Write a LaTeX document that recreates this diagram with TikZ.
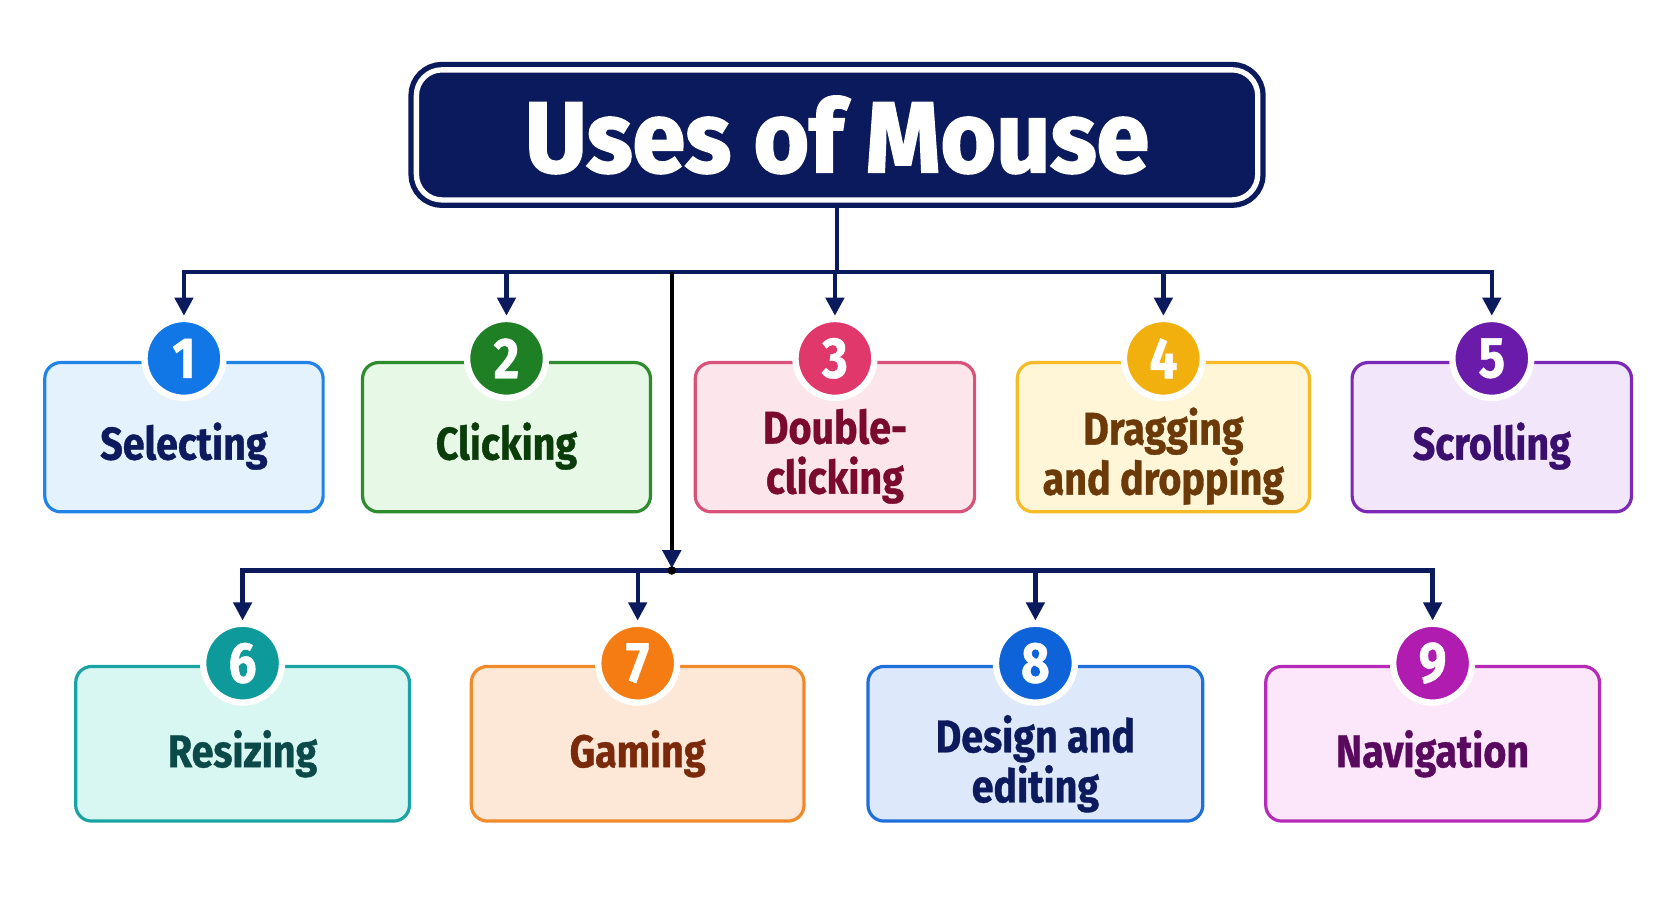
\documentclass[tikz,border=0pt]{standalone}
\usepackage{fontspec}
\setmainfont{Fira Sans}
\newfontfamily\condf{Fira Sans}[FakeStretch=0.86,FakeBold=0.8]
\newfontfamily\titlef{Fira Sans}[FakeStretch=0.95,FakeBold=2]
\usetikzlibrary{arrows.meta}
\definecolor{navy}{HTML}{0B1A5C}
\definecolor{bdA}{HTML}{2283E6}\definecolor{fiA}{HTML}{E4F2FD}\definecolor{ciA}{HTML}{1177E6}\definecolor{txA}{HTML}{0D1B5E}
\definecolor{bdB}{HTML}{2E8B2E}\definecolor{fiB}{HTML}{E7F8E7}\definecolor{ciB}{HTML}{1E7F25}\definecolor{txB}{HTML}{0B3D0B}
\definecolor{bdC}{HTML}{D9527A}\definecolor{fiC}{HTML}{FDE6EB}\definecolor{ciC}{HTML}{E0386A}\definecolor{txC}{HTML}{7A0A2E}
\definecolor{bdD}{HTML}{F5BC28}\definecolor{fiD}{HTML}{FFF6D8}\definecolor{ciD}{HTML}{F2B00F}\definecolor{txD}{HTML}{6B3A08}
\definecolor{bdE}{HTML}{7B2AB8}\definecolor{fiE}{HTML}{F2E6FB}\definecolor{ciE}{HTML}{6A1BAA}\definecolor{txE}{HTML}{3A0F6E}
\definecolor{bdF}{HTML}{1AA3A3}\definecolor{fiF}{HTML}{D8F7F2}\definecolor{ciF}{HTML}{0E9A9A}\definecolor{txF}{HTML}{0B4A48}
\definecolor{bdG}{HTML}{F08A2A}\definecolor{fiG}{HTML}{FDE8D8}\definecolor{ciG}{HTML}{F57C12}\definecolor{txG}{HTML}{7A2A0A}
\definecolor{bdH}{HTML}{1E6FD9}\definecolor{fiH}{HTML}{DDE9FA}\definecolor{ciH}{HTML}{0F63D8}\definecolor{txH}{HTML}{0D1B5E}
\definecolor{bdI}{HTML}{B52BB5}\definecolor{fiI}{HTML}{FCE7FA}\definecolor{ciI}{HTML}{B01CB0}\definecolor{txI}{HTML}{5A0A5E}
% text lowered by #1 below the box centre, first baseline at that point
\newcommand\boxlbl[2]{\raisebox{-#1}{\begin{tabular}[t]{@{}c@{}}#2\end{tabular}}}
\tikzset{
  ubox/.style n args={4}{draw=#1, fill=#2, text=#3, minimum width=#4, line width=1.5pt,
    rounded corners=7.5pt, inner sep=0pt, text height=0pt, text depth=0pt,
    font=\condf\bfseries\fontsize{21.5}{20}\selectfont},
  rowone/.style={minimum height=70pt},
  rowtwo/.style={minimum height=72.5pt},
  num/.style={circle, fill=#1, draw=white, line width=3pt, minimum size=37pt, inner sep=0pt,
    text=white, font=\condf\bfseries\fontsize{27}{27}\selectfont},
  titlebox/.style={draw=navy, fill=navy, line width=2.5pt, double=white, double distance=2.5pt,
    rounded corners=12pt, minimum width=394.5pt, minimum height=61pt, inner sep=0pt,
    text=white, font=\titlef\bfseries\fontsize{47}{47}\selectfont},
  link/.style={draw=navy, line width=2pt},
  tip/.style={-{Triangle[width=8.5pt,length=8.5pt]}},
  tips/.style={{Triangle[width=8.5pt,length=8.5pt]}-{Triangle[width=8.5pt,length=8.5pt]}}
}
\begin{document}
\begin{tikzpicture}[x=0.5pt,y=-0.5pt]
\useasboundingbox (0,0) rectangle (1568,847);
\fill[white] (0,0) rectangle (1568,847);

\node[titlebox] (title) at (785,126.5) {Uses of Mouse};

% row 1
\node[ubox={bdA}{fiA}{txA}{130.5pt}, rowone] (b1) at (172.5,410) {\boxlbl{10.5pt}{Selecting}};
\node[ubox={bdB}{fiB}{txB}{135pt}, rowone] (b2) at (475,410) {\boxlbl{10.5pt}{Clicking}};
\node[ubox={bdC}{fiC}{txC}{131pt}, rowone] (b3) at (783,410) {\boxlbl{3pt}{Double-\\clicking}};
\node[ubox={bdD}{fiD}{txD}{137pt}, rowone] (b4) at (1091,410) {\boxlbl{3.5pt}{Dragging\\and dropping}};
\node[ubox={bdE}{fiE}{txE}{131pt}, rowone] (b5) at (1399,410) {\boxlbl{10.5pt}{Scrolling}};
% row 2
\node[ubox={bdF}{fiF}{txF}{156.5pt}, rowtwo] (b6) at (227.5,697.5) {\boxlbl{11pt}{Resizing}};
\node[ubox={bdG}{fiG}{txG}{156pt}, rowtwo] (b7) at (598,697.5) {\boxlbl{11pt}{Gaming}};
\node[ubox={bdH}{fiH}{txH}{157pt}, rowtwo] (b8) at (971,697.5) {\boxlbl{4pt}{Design and\\editing}};
\node[ubox={bdI}{fiI}{txI}{156.5pt}, rowtwo] (b9) at (1343.5,697.5) {\boxlbl{11pt}{Navigation}};

% number badges
\node[num=ciA] (c1) at ([yshift=1.2pt]b1.north) {1};
\node[num=ciB] (c2) at ([yshift=1.2pt]b2.north) {2};
\node[num=ciC] (c3) at ([yshift=1.2pt]b3.north) {3};
\node[num=ciD] (c4) at ([yshift=1.2pt]b4.north) {4};
\node[num=ciE] (c5) at ([yshift=1.2pt]b5.north) {5};
\node[num=ciF] (c6) at ([yshift=0.8pt]b6.north) {6};
\node[num=ciG] (c7) at ([yshift=0.8pt]b7.north) {7};
\node[num=ciH] (c8) at ([yshift=0.8pt]b8.north) {8};
\node[num=ciI] (c9) at ([yshift=0.8pt]b9.north) {9};

% connectors, upper level
\coordinate (j) at (783,255);
\draw[link] (title.south) -- (title.south |- j);
\draw[link, tips] (c1.north) |- (j) -| (c5.north);
\foreach \i in {2,3,4} \draw[link, tip] (c\i.north |- j) -- (c\i.north);

% connector to lower level
\coordinate (j2) at (630,535);
\draw[black, line width=2pt, -{Triangle[width=8.5pt,length=8.5pt,color=navy]}, shorten >=1pt] (j2 |- j) -- (j2);
\draw[link, tips] (c6.north) |- (j2) -| (c9.north);
\foreach \i in {7,8} \draw[link, tip] (c\i.north |- j2) -- (c\i.north);
\fill[black] (j2) circle (2pt);
\end{tikzpicture}
\end{document}
